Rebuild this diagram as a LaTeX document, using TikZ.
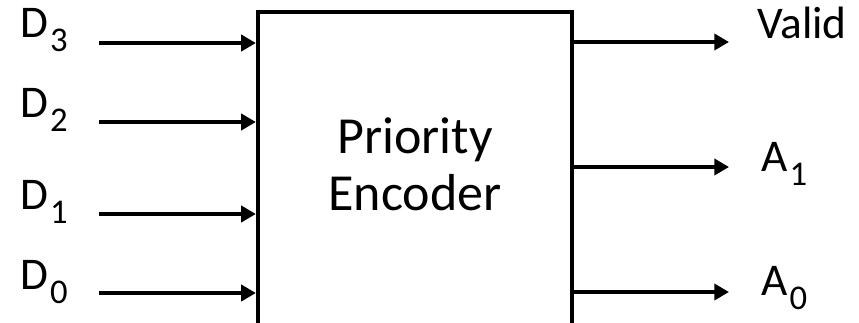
\documentclass[tikz,border=0pt]{standalone}
\usepackage{fontspec}
\setmainfont{Carlito}
\usetikzlibrary{arrows.meta}
\newcommand\lbsub[1]{\kern1.5pt\raisebox{-11pt}{\fontsize{26pt}{26pt}\selectfont #1}}
\tikzset{
  x=0.75pt, y=-0.75pt,
  arr/.style={line width=3.2pt, -{Triangle[length=11pt,width=12pt]}},
  lbl/.style={anchor=base west, inner sep=0pt, font=\fontsize{34pt}{34pt}\selectfont},
  blk/.style={draw, line width=3.2pt, minimum width=235.5pt, minimum height=235pt, inner sep=0pt},
}
\begin{document}
\begin{tikzpicture}
\useasboundingbox (0,0) rectangle (859,322);
\begin{scope}
\clip (0,0) rectangle (859,322);
\node[blk] (box) at (415,168.67) {};
\end{scope}
\node[align=center, inner sep=0pt, font=\fontsize{39pt}{43pt}\selectfont] (title) at (415,164) {Priority\\Encoder};
% input labels
\node[lbl] (d3) at (20,37) {D\lbsub{3}};
\node[lbl] (d2) at (20,117) {D\lbsub{2}};
\node[lbl] (d1) at (20,209) {D\lbsub{1}};
\node[lbl] (d0) at (20,289) {D\lbsub{0}};
% output labels
\node[lbl] (valid) at (757,38) {Valid};
\node[lbl] (a1) at (761,171) {A\lbsub{1}};
\node[lbl] (a0) at (761,295) {A\lbsub{0}};
% connector ends
\coordinate (i3) at (99,43);
\coordinate (i2) at (99,122);
\coordinate (i1) at (99,214);
\coordinate (i0) at (99,293);
\coordinate (o2) at (729,42);
\coordinate (o1) at (729,167);
\coordinate (o0) at (729,292);
\draw[arr] (i3) -- (box.west |- i3);
\draw[arr] (i2) -- (box.west |- i2);
\draw[arr] (i1) -- (box.west |- i1);
\draw[arr] (i0) -- (box.west |- i0);
\draw[arr] (box.east |- o2) -- (o2);
\draw[arr] (box.east |- o1) -- (o1);
\draw[arr] (box.east |- o0) -- (o0);
\end{tikzpicture}
\end{document}
